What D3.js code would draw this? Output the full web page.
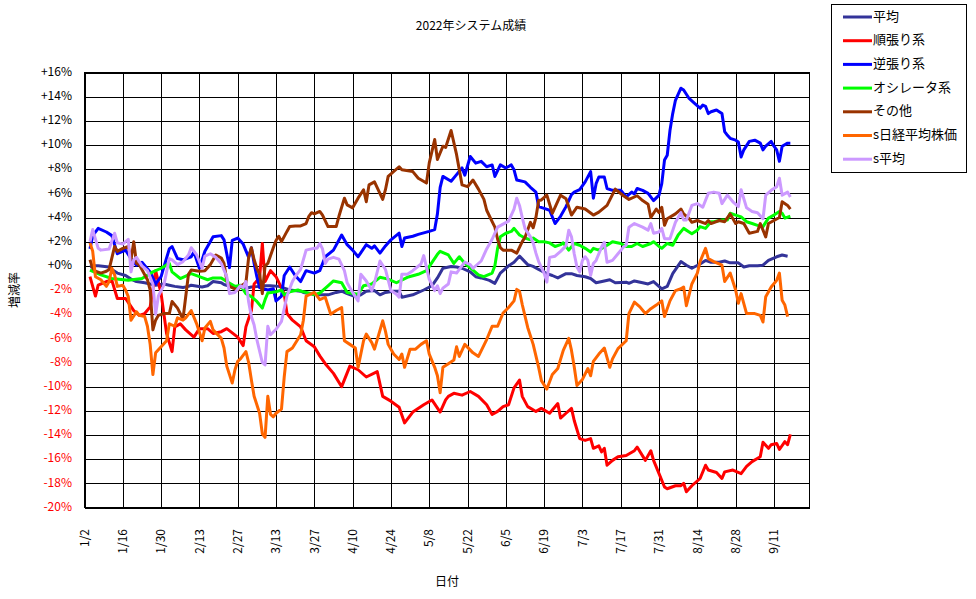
<!DOCTYPE html>
<html>
<head>
<meta charset="utf-8">
<script src="https://cdn.jsdelivr.net/npm/d3@7"></script>
<style>
	body { margin: 0; background: #fff; }
	text { font-family: "Noto Sans CJK JP", "DejaVu Sans", sans-serif; }
</style>
</head>
<body>
<script>
// 系列名と色
const seriesNames = ["平均", "順張り系", "逆張り系", "オシレータ系", "その他", "s日経平均株価", "s平均"];
const seriesColors = ["#333399", "#ff0000", "#0000ff", "#00ff00", "#993300", "#ff6600", "#cc99ff"];

// 目盛り
const yTicks = [16, 14, 12, 10, 8, 6, 4, 2, 0, -2, -4, -6, -8, -10, -12, -14, -16, -18, -20];
const xTicks = ["1/2", "1/16", "1/30", "2/13", "2/27", "3/13", "3/27", "4/10", "4/24", "5/8", "5/22", "6/5", "6/19", "7/3", "7/17", "7/31", "8/14", "8/28", "9/11"];
const xStart = "1/2";
const xEnd = "9/24";

// 増減率 (%)
const heikin = [["1/4",-0.1],["1/5",0],["1/7",0],["1/11",-0.1],["1/12",-0.3],["1/14",-0.6],["1/17",-0.8],["1/19",-1.1],["1/21",-1.3],["1/24",-1.4],["1/26",-1.5],["1/28",-1.6],["1/31",-1.5],["2/2",-1.6],["2/4",-1.7],["2/7",-1.8],["2/9",-1.7],["2/10",-1.6],["2/14",-1.75],["2/16",-1.65],["2/18",-1.3],["2/21",-1.4],["2/22",-1.55],["2/25",-1.75],["2/28",-1.75],["3/2",-1.85],["3/4",-1.75],["3/7",-1.7],["3/9",-1.65],["3/11",-1.65],["3/14",-1.7],["3/16",-1.85],["3/18",-2],["3/22",-2.1],["3/23",-2.2],["3/25",-2.3],["3/28",-2.4],["3/30",-2.4],["4/1",-2.4],["4/4",-2.2],["4/6",-2.1],["4/8",-2.3],["4/11",-2.55],["4/13",-2.4],["4/15",-2.1],["4/18",-2.05],["4/20",-2.4],["4/22",-2.2],["4/25",-2.1],["4/27",-2.1],["4/28",-2.6],["5/2",-2.4],["5/6",-2],["5/9",-1.65],["5/11",-1],["5/13",-0.2],["5/16",-0.05],["5/18",-0.1],["5/20",-0.2],["5/23",-0.5],["5/25",-0.9],["5/27",-1],["5/30",-1.2],["6/1",-1.45],["6/3",-0.6],["6/6",0],["6/8",0.3],["6/10",0.8],["6/13",0.1],["6/15",-0.05],["6/17",-0.3],["6/20",-0.65],["6/22",-0.8],["6/24",-1],["6/27",-0.65],["6/29",-0.65],["7/1",-0.8],["7/4",-0.9],["7/6",-1.05],["7/8",-1.4],["7/11",-1.25],["7/13",-1.15],["7/15",-1.4],["7/19",-1.35],["7/20",-1.45],["7/22",-1.25],["7/25",-1.4],["7/27",-1.5],["7/29",-1.3],["8/1",-1.9],["8/3",-1.7],["8/5",-0.65],["8/8",0.35],["8/10",0.05],["8/12",-0.2],["8/15",0.15],["8/17",0.45],["8/19",0.3],["8/22",0.3],["8/24",0.4],["8/26",0.25],["8/29",0.25],["8/31",-0.1],["9/2",0],["9/5",0],["9/7",0.05],["9/9",0.45],["9/12",0.75],["9/14",0.9],["9/16",0.8]];

const junbari = [["1/4",-0.9],["1/6",-2.5],["1/7",-1.6],["1/10",-1.3],["1/12",-1.2],["1/14",-2.7],["1/17",-2.7],["1/20",-3.7],["1/22",-4.1],["1/24",-3.95],["1/26",-3.4],["1/28",-0.4],["1/30",-2.3],["2/1",-5.6],["2/3",-7.1],["2/4",-5.05],["2/6",-4.8],["2/8",-5.3],["2/11",-5.9],["2/13",-5.2],["2/16",-5.2],["2/18",-5.6],["2/21",-5.45],["2/23",-5.2],["2/27",-5.9],["3/1",-6.6],["3/2",-5.05],["3/4",-3.7],["3/5",-1.5],["3/7",-1],["3/8",1.85],["3/9",-1.3],["3/11",-0.4],["3/13",-0.9],["3/16",-2.3],["3/17",-3.95],["3/19",-4.5],["3/22",-5.05],["3/24",-6.2],["3/27",-6.7],["3/29",-7.45],["3/31",-8.1],["4/3",-8.9],["4/6",-10],["4/9",-8.3],["4/12",-8.6],["4/15",-9.2],["4/19",-8.75],["4/21",-10.8],["4/24",-11.2],["4/27",-11.7],["4/29",-13],["5/2",-12.1],["5/6",-11.5],["5/9",-11.1],["5/12",-12.1],["5/14",-11.1],["5/15",-10.8],["5/17",-10.55],["5/20",-10.7],["5/23",-10.4],["5/26",-10.8],["5/29",-11.5],["5/31",-12.3],["6/2",-12.05],["6/4",-11.65],["6/6",-11.5],["6/8",-10.1],["6/10",-9.45],["6/11",-10.8],["6/13",-11.65],["6/16",-12.05],["6/18",-11.8],["6/21",-12.2],["6/24",-11.4],["6/25",-12.6],["6/27",-12.2],["6/29",-11.8],["6/30",-12.8],["7/2",-14.3],["7/4",-14.45],["7/6",-14.3],["7/7",-15.1],["7/9",-14.9],["7/10",-15.4],["7/11",-15.1],["7/12",-16.5],["7/14",-16.1],["7/16",-15.8],["7/19",-15.7],["7/22",-15.3],["7/23",-15],["7/26",-16.1],["7/28",-15.3],["7/29",-16.1],["7/31",-17.2],["8/2",-18.3],["8/3",-18.45],["8/6",-18.2],["8/8",-18.2],["8/9",-18],["8/10",-18.7],["8/12",-18.2],["8/15",-17.6],["8/17",-16.5],["8/18",-16.9],["8/21",-17.1],["8/23",-17.6],["8/24",-17.05],["8/27",-16.9],["8/30",-17.2],["9/1",-16.6],["9/3",-16.2],["9/6",-15.8],["9/7",-14.6],["9/9",-15.1],["9/10",-14.8],["9/12",-14.7],["9/13",-15.2],["9/15",-14.55],["9/16",-14.8],["9/17",-13.95]];

const gyakubari = [["1/4",1.4],["1/5",2.5],["1/7",3.1],["1/10",2.8],["1/12",2.5],["1/14",1],["1/17",1.3],["1/19",0.6],["1/21",0.05],["1/23",0.3],["1/26",-0.5],["1/28",-1.5],["1/30",-0.9],["1/31",-0.1],["2/2",1.4],["2/3",1.6],["2/5",0.6],["2/7",0.5],["2/10",0.75],["2/11",1.15],["2/13",-0.2],["2/15",1.2],["2/18",2.4],["2/21",2.5],["2/22",2.15],["2/24",-0.15],["2/25",2.1],["2/27",2.3],["3/1",1.8],["3/3",0.7],["3/4",1.5],["3/5",0.2],["3/6",-0.9],["3/7",-1.8],["3/10",-2],["3/12",-1.9],["3/13",-2.9],["3/15",-2.5],["3/16",-0.8],["3/18",-0.1],["3/20",-0.8],["3/22",-1.3],["3/24",-0.4],["3/27",-0.6],["3/29",-0.4],["3/31",0.75],["4/3",1.3],["4/6",2.55],["4/8",1.75],["4/10",1.3],["4/12",0.75],["4/15",1.75],["4/17",1.45],["4/18",1.65],["4/20",1.05],["4/22",1.65],["4/24",2.15],["4/27",2.7],["4/28",1.6],["4/29",2.3],["5/2",2.45],["5/4",2.6],["5/8",2.85],["5/10",3],["5/11",4.3],["5/12",6.5],["5/13",7.4],["5/16",7],["5/18",7.55],["5/20",8.1],["5/21",7.5],["5/23",9.05],["5/25",8.5],["5/27",8.65],["5/29",8.2],["5/31",8.35],["6/1",7.4],["6/3",8.35],["6/5",8.1],["6/7",8.35],["6/8",7.95],["6/9",7.1],["6/12",6.95],["6/14",6.5],["6/16",6.1],["6/17",4.9],["6/19",4.75],["6/21",4.6],["6/23",3.5],["6/25",4.1],["6/27",4.9],["6/29",5.9],["6/30",6.1],["7/2",6.3],["7/4",6.95],["7/6",7.8],["7/7",5.6],["7/8",6.8],["7/9",7.35],["7/11",7.35],["7/12",6.4],["7/14",6.25],["7/17",6.25],["7/19",5.7],["7/21",6.1],["7/22",5.95],["7/23",6.4],["7/25",6.25],["7/27",6],["7/29",5.4],["7/31",5.85],["8/1",6.8],["8/2",8.75],["8/3",9.15],["8/4",11.2],["8/5",12.6],["8/6",13.7],["8/8",14.7],["8/9",14.55],["8/11",13.85],["8/13",13.45],["8/15",13.05],["8/16",13.3],["8/17",13.2],["8/18",12.6],["8/19",12.75],["8/21",12.9],["8/23",12.6],["8/24",11.1],["8/25",10.8],["8/26",10.55],["8/28",10.4],["8/29",10.25],["8/30",9],["8/31",9.6],["9/2",10.3],["9/4",10.4],["9/6",10.15],["9/7",9.6],["9/8",9.9],["9/10",10.3],["9/11",9.9],["9/12",9.6],["9/13",8.65],["9/14",9.9],["9/16",10.15],["9/17",10.15]];

const oscillator = [["1/4",-0.35],["1/8",-0.75],["1/12",-1.05],["1/18",-1.2],["1/23",-1.05],["1/27",-0.5],["1/30",-0.2],["2/2",0.2],["2/3",-0.5],["2/6",-1.05],["2/10",-0.65],["2/13",-0.9],["2/16",-1.15],["2/18",-1],["2/21",-1],["2/23",-1.3],["2/26",-1.7],["2/28",-1.6],["3/2",-2.3],["3/4",-2.55],["3/6",-2.95],["3/8",-3.5],["3/9",-2.8],["3/10",-2.25],["3/13",-2.15],["3/15",-2],["3/16",-2.4],["3/18",-2.15],["3/21",-2],["3/23",-2.15],["3/26",-2.3],["3/27",-2.4],["3/29",-2.25],["4/1",-1.65],["4/3",-1.25],["4/6",-1.4],["4/8",-2.2],["4/12",-2.35],["4/14",-1.65],["4/17",-1.5],["4/20",-0.95],["4/23",-1.1],["4/26",-1.4],["4/30",-0.95],["5/4",-0.7],["5/7",-0.4],["5/11",0.95],["5/12",1.2],["5/15",0.9],["5/17",0.2],["5/19",0.75],["5/21",0.2],["5/24",-0.35],["5/26",-0.75],["5/28",-0.9],["5/31",-0.6],["6/1",0],["6/2",1.45],["6/3",2.4],["6/5",2.7],["6/7",2.85],["6/8",3.1],["6/10",2.55],["6/12",2.3],["6/14",2.15],["6/15",2.3],["6/17",2],["6/19",2],["6/21",1.9],["6/23",1.6],["6/25",1.75],["6/26",1.9],["6/28",1.3],["6/30",1.85],["7/2",1.7],["7/4",1.45],["7/6",1.15],["7/7",1.45],["7/9",1.3],["7/12",1.7],["7/14",2],["7/17",1.85],["7/19",1.6],["7/21",1.6],["7/23",1.85],["7/25",1.6],["7/28",1.85],["7/29",2],["7/31",1.6],["8/1",1.45],["8/3",1.85],["8/5",1.7],["8/7",2.55],["8/9",3.1],["8/11",2.8],["8/12",2.65],["8/14",2.95],["8/15",3.25],["8/17",3.1],["8/19",3.65],["8/20",3.65],["8/23",3.8],["8/25",3.8],["8/26",4.35],["8/28",4.2],["8/30",4.05],["9/1",3.65],["9/3",3.5],["9/5",3.35],["9/7",3.25],["9/9",3.95],["9/11",4.2],["9/13",4.5],["9/14",4.35],["9/15",3.95],["9/17",4.1]];

const sonota = [["1/4",0.5],["1/5",-0.2],["1/6",-0.45],["1/8",-0.6],["1/10",-0.45],["1/11",-0.3],["1/13",1.6],["1/14",1.2],["1/16",1.45],["1/18",1.6],["1/19",0.5],["1/20",2],["1/21",0.2],["1/22",0.1],["1/25",-1.15],["1/26",-2],["1/27",-5.3],["1/28",-4.5],["1/29",-4.1],["1/31",-3.95],["2/2",-3.95],["2/3",-2.95],["2/5",-3.5],["2/7",-4.4],["2/9",-0.7],["2/10",-0.35],["2/13",-0.45],["2/15",-0.4],["2/17",0.1],["2/19",0.9],["2/21",0.65],["2/22",0.2],["2/23",-1.2],["2/24",-1.7],["2/26",-1.9],["2/27",-2],["2/28",-1.7],["3/2",-1.4],["3/3",0.7],["3/4",1.5],["3/5",0.5],["3/6",-0.2],["3/7",-0.7],["3/8",-2.3],["3/9",0],["3/10",0.2],["3/12",1.5],["3/13",2.1],["3/14",2.45],["3/15",2],["3/17",2.85],["3/18",3.25],["3/20",3.3],["3/22",3.3],["3/24",3.5],["3/25",4.1],["3/26",4.4],["3/27",4.3],["3/29",4.5],["3/30",4.2],["4/1",3.25],["4/4",3.25],["4/5",4.1],["4/7",5.6],["4/8",5.05],["4/10",4.8],["4/12",5.6],["4/14",6.3],["4/15",5.3],["4/16",6.7],["4/18",6.95],["4/21",5.5],["4/22",6.3],["4/23",7.4],["4/27",8.2],["4/28",7.95],["5/2",7.8],["5/4",7.25],["5/7",6.85],["5/8",8.5],["5/10",10.45],["5/11",8.8],["5/13",9.9],["5/14",9.8],["5/16",11.2],["5/18",9.2],["5/20",6.7],["5/22",6.55],["5/24",7.1],["5/26",6.35],["5/28",5.5],["5/29",4.6],["5/31",3.65],["6/1",3.2],["6/2",2.2],["6/3",1.5],["6/4",1.3],["6/7",1.3],["6/9",1.05],["6/11",2],["6/12",2.35],["6/14",3.6],["6/15",3.15],["6/16",4],["6/17",5.4],["6/18",5.45],["6/20",5.85],["6/22",4.35],["6/25",5.85],["6/27",5.55],["6/29",4.2],["7/1",4.85],["7/4",4.7],["7/7",4.2],["7/9",4.45],["7/12",5],["7/15",6.35],["7/18",5.8],["7/20",5.5],["7/23",5.8],["7/25",5.4],["7/27",5.1],["7/28",4],["7/30",4.7],["7/31",4.4],["8/1",4.85],["8/2",3.35],["8/3",3.9],["8/6",4.3],["8/8",4.7],["8/9",4.3],["8/11",3.9],["8/12",3.6],["8/14",3.75],["8/17",3.5],["8/18",3.75],["8/19",3.5],["8/22",3.75],["8/24",3.65],["8/26",4.3],["8/28",3.5],["8/29",3.65],["8/31",3.5],["9/2",2.7],["9/5",2.85],["9/6",3.5],["9/8",2.4],["9/9",3.5],["9/11",3.75],["9/13",4],["9/14",5.3],["9/16",5],["9/17",4.7]];

const nikkei = [["1/4",1.9],["1/5",1.2],["1/6",-0.9],["1/8",-1.15],["1/10",-1.7],["1/11",-1.3],["1/12",-0.2],["1/13",-0.75],["1/14",-1.7],["1/16",-1.6],["1/17",-2],["1/18",-2.55],["1/19",-4.5],["1/21",-3.8],["1/22",-4.1],["1/24",-4.2],["1/25",-5],["1/26",-6.5],["1/27",-9],["1/28",-7.2],["1/30",-6.7],["2/1",-6.2],["2/2",-4.8],["2/4",-5],["2/5",-4.3],["2/7",-4.5],["2/8",-4.3],["2/10",-3.7],["2/12",-4.8],["2/14",-6.2],["2/15",-5.15],["2/17",-4.6],["2/18",-5.3],["2/21",-6],["2/22",-6.8],["2/23",-8.3],["2/25",-9.7],["2/26",-8.6],["2/27",-7.9],["2/28",-7.7],["3/2",-7.1],["3/3",-8],["3/4",-9.45],["3/5",-10.8],["3/7",-12.2],["3/8",-13.9],["3/9",-14.2],["3/10",-10.8],["3/11",-12.3],["3/12",-12.5],["3/13",-12.2],["3/15",-11.85],["3/16",-9.2],["3/17",-7.1],["3/19",-6.8],["3/22",-5.7],["3/23",-4.5],["3/24",-2.5],["3/27",-2.2],["3/29",-2.8],["3/31",-2.6],["4/2",-4],["4/4",-3.7],["4/6",-3.45],["4/7",-6.2],["4/9",-6.5],["4/11",-6.8],["4/12",-8.4],["4/14",-6.2],["4/15",-5.65],["4/17",-6.35],["4/18",-6.9],["4/21",-4.55],["4/22",-5.4],["4/23",-6.5],["4/25",-7.3],["4/27",-7.75],["4/28",-7.3],["4/29",-8.4],["5/1",-6.9],["5/3",-6.9],["5/5",-6.5],["5/7",-6.2],["5/8",-7.3],["5/10",-8.4],["5/11",-9.1],["5/12",-10.5],["5/13",-8.4],["5/15",-8.1],["5/17",-7.8],["5/18",-6.7],["5/19",-7.5],["5/21",-6.5],["5/24",-7.2],["5/26",-7.5],["5/29",-6.1],["5/31",-5],["6/2",-5],["6/4",-3.9],["6/6",-3.45],["6/8",-2.9],["6/9",-1.95],["6/10",-2.1],["6/11",-3.2],["6/13",-5.1],["6/15",-6.5],["6/17",-8.4],["6/18",-9.5],["6/20",-10.2],["6/21",-9.6],["6/22",-9],["6/24",-8.5],["6/26",-7],["6/28",-6],["6/29",-7],["6/30",-8.35],["7/1",-9.9],["7/3",-9.4],["7/5",-8.5],["7/6",-9.1],["7/7",-7.9],["7/9",-7.3],["7/11",-6.8],["7/13",-8.4],["7/14",-7.7],["7/16",-6.85],["7/19",-6.2],["7/20",-3.95],["7/22",-3],["7/24",-3.4],["7/26",-3.95],["7/28",-3.55],["7/30",-3.25],["8/1",-2.9],["8/2",-4.2],["8/4",-2.9],["8/6",-2.05],["8/8",-1.9],["8/9",-1.75],["8/10",-3.3],["8/12",-1.5],["8/14",-0.6],["8/15",0.35],["8/17",1.45],["8/18",0.6],["8/20",0.35],["8/23",0.05],["8/24",-1.3],["8/26",-0.6],["8/28",-2],["8/29",-3.1],["8/30",-2.3],["9/1",-3.95],["9/4",-3.95],["9/6",-4.1],["9/7",-4.65],["9/8",-2.55],["9/10",-1.75],["9/12",-1.2],["9/13",-0.6],["9/14",-2.85],["9/15",-3.25],["9/16",-4.2]];

const sHeikin = [["1/4",2],["1/5",3],["1/7",1.45],["1/8",1.3],["1/11",1.4],["1/13",2.7],["1/14",1.9],["1/16",1.8],["1/18",2.2],["1/19",-0.5],["1/20",0.5],["1/21",0.7],["1/23",0],["1/25",-0.4],["1/27",-1.5],["1/28",-4],["1/29",-2.5],["1/31",-1.6],["2/2",0.6],["2/3",0.5],["2/5",0.1],["2/7",0.35],["2/9",0.9],["2/10",1.5],["2/12",0.9],["2/14",-0.2],["2/15",0.8],["2/17",1],["2/19",0.7],["2/21",0.2],["2/23",-0.9],["2/24",-2.3],["2/26",-2.2],["2/28",-1.65],["3/1",-1.8],["3/2",-1.3],["3/3",-3],["3/4",-4.2],["3/5",-4.9],["3/6",-6.1],["3/8",-8],["3/9",-8.2],["3/10",-5],["3/11",-5.7],["3/13",-5.25],["3/15",-4.6],["3/17",-2.5],["3/19",-1.3],["3/20",-0.9],["3/22",-0.3],["3/24",1.3],["3/27",1.45],["3/28",1.45],["3/29",1.85],["3/30",1.4],["3/31",0.2],["4/1",0.55],["4/3",0.7],["4/5",0.55],["4/7",-0.4],["4/8",-1.4],["4/10",-2.2],["4/12",-2.9],["4/13",-0.7],["4/15",-1.25],["4/17",-2.05],["4/18",-1.4],["4/20",0.4],["4/22",-0.3],["4/24",-2.05],["4/26",-2.35],["4/27",-2.6],["4/28",-0.7],["4/30",-0.7],["5/2",-0.4],["5/5",0.15],["5/6",0.85],["5/8",-1.1],["5/10",-2.05],["5/11",-1.65],["5/12",-2.3],["5/13",-1.85],["5/15",-1.5],["5/16",-0.5],["5/18",-0.6],["5/19",-0.3],["5/21",0.3],["5/23",0.1],["5/24",-0.2],["5/27",0.4],["5/29",1.4],["5/31",2.2],["6/2",3.2],["6/4",3.45],["6/6",3.7],["6/8",4.7],["6/9",5.6],["6/10",5],["6/11",4],["6/12",3.1],["6/14",2.4],["6/15",1.9],["6/16",1.05],["6/17",0.35],["6/19",-0.6],["6/20",-1.35],["6/21",0.7],["6/23",0.8],["6/25",1.2],["6/27",1.65],["6/28",2.95],["6/29",2.4],["6/30",1],["7/1",-0.1],["7/2",-0.5],["7/3",0.45],["7/4",0.75],["7/5",0.45],["7/6",-0.8],["7/7",0.2],["7/8",0.45],["7/10",1.55],["7/11",1.95],["7/12",0.3],["7/14",0.45],["7/16",1],["7/18",1.55],["7/19",1.7],["7/20",3.2],["7/22",3.5],["7/25",3.2],["7/27",2.95],["7/28",3.5],["7/29",2.7],["7/31",2.8],["8/1",3.1],["8/2",2.25],["8/4",2.25],["8/6",3.6],["8/8",4.4],["8/9",3.8],["8/10",3.8],["8/12",5],["8/14",5.15],["8/16",4.85],["8/18",6],["8/20",6.1],["8/22",6],["8/23",5.15],["8/25",5.85],["8/27",5.3],["8/29",4.9],["8/30",6.3],["9/1",4.8],["9/3",4.5],["9/5",4.4],["9/7",3.9],["9/8",5.85],["9/10",6.25],["9/12",6.55],["9/13",7.25],["9/14",5.85],["9/16",6.1],["9/17",5.7]];

const seriesData = [heikin, junbari, gyakubari, oscillator, sonota, nikkei, sHeikin];

const parseDay = (s) => {
	const [m, d] = s.split("/").map(Number);
	return new Date(2022, m - 1, d);
};

const app = () => {
	const width = 976;
	const height = 599;
	const plot = { left: 84.5, right: 809.5, top: 72.5, bottom: 507.5 };

	const svg = d3.select("body").append("svg").attr("width", width).attr("height", height);

	const x = d3.scaleTime().domain([parseDay(xStart), parseDay(xEnd)]).range([plot.left, plot.right]);
	const y = d3.scaleLinear().domain([-20, 16]).range([plot.bottom, plot.top]);

	// タイトル
	svg.append("text")
		.text("2022年システム成績")
		.attr("x", 471)
		.attr("y", 27)
		.attr("text-anchor", "middle")
		.attr("dominant-baseline", "middle")
		.style("font-size", "12px")
		.style("fill", "#000");

	// 横グリッド
	svg.append("g")
		.attr("transform", "translate(" + plot.left + ",0)")
		.call(d3.axisLeft(y).tickValues(yTicks).tickSize(-(plot.right - plot.left)).tickFormat(""))
		.call((g) => g.select(".domain").remove())
		.call((g) => g.selectAll("line").attr("stroke", "#000").attr("shape-rendering", "crispEdges"));

	// 縦グリッド
	svg.append("g")
		.attr("transform", "translate(0," + plot.bottom + ")")
		.call(d3.axisBottom(x).tickValues(xTicks.map(parseDay)).tickSize(-(plot.bottom - plot.top)).tickFormat(""))
		.call((g) => g.select(".domain").remove())
		.call((g) => g.selectAll("line").attr("stroke", "#000").attr("shape-rendering", "crispEdges"));

	svg.append("rect")
		.attr("x", plot.left)
		.attr("y", plot.top)
		.attr("width", plot.right - plot.left)
		.attr("height", plot.bottom - plot.top)
		.attr("fill", "none")
		.attr("stroke", "#000")
		.attr("shape-rendering", "crispEdges");

	// Y軸ラベル
	svg.append("g")
		.selectAll("text")
		.data(yTicks)
		.enter()
		.append("text")
		.attr("x", 72)
		.attr("y", (d) => y(d))
		.attr("text-anchor", "end")
		.attr("dominant-baseline", "middle")
		.style("font-size", "12px")
		.style("fill", (d) => (d < 0 ? "#ff0000" : "#000"))
		.text((d) => (d >= 0 ? "+" + d + "%" : d + "%"));

	// X軸ラベル
	svg.append("g")
		.selectAll("text")
		.data(xTicks)
		.enter()
		.append("text")
		.attr("transform", (d) => "translate(" + x(parseDay(d)) + ",529) rotate(-90)")
		.attr("text-anchor", "end")
		.attr("dy", "0.35em")
		.style("font-size", "12px")
		.style("fill", "#000")
		.text((d) => d);

	svg.append("text")
		.text("日付")
		.attr("x", (plot.left + plot.right) / 2)
		.attr("y", 583)
		.attr("text-anchor", "middle")
		.attr("dominant-baseline", "middle")
		.style("font-size", "12px");

	svg.append("text")
		.text("増減率")
		.attr("transform", "translate(16," + (plot.top + plot.bottom) / 2 + ") rotate(-90)")
		.attr("text-anchor", "middle")
		.attr("dominant-baseline", "middle")
		.style("font-size", "12px");

	// 系列
	const line = d3.line()
		.x((d) => x(parseDay(d[0])))
		.y((d) => y(d[1]));

	svg.append("g")
		.selectAll("path")
		.data(seriesData)
		.enter()
		.append("path")
		.attr("d", line)
		.attr("fill", "none")
		.attr("stroke", (d, i) => seriesColors[i])
		.attr("stroke-width", 3)
		.attr("stroke-linejoin", "round");

	// 凡例
	const legend = svg.append("g");
	legend.append("rect")
		.attr("x", 831.5)
		.attr("y", 4.5)
		.attr("width", 135)
		.attr("height", 168)
		.attr("fill", "#fff")
		.attr("stroke", "#000")
		.attr("shape-rendering", "crispEdges");

	const item = legend.selectAll(".legend-item")
		.data(seriesNames)
		.enter()
		.append("g")
		.attr("class", "legend-item")
		.attr("transform", (d, i) => "translate(0," + (17 + i * 23.7) + ")");
	item.append("line")
		.attr("x1", 843)
		.attr("x2", 872)
		.attr("stroke", (d, i) => seriesColors[i])
		.attr("stroke-width", 3);
	item.append("text")
		.attr("x", 873)
		.attr("dominant-baseline", "middle")
		.style("font-size", "13px")
		.text((d) => d);
};

app();
</script>
</body>
</html>
